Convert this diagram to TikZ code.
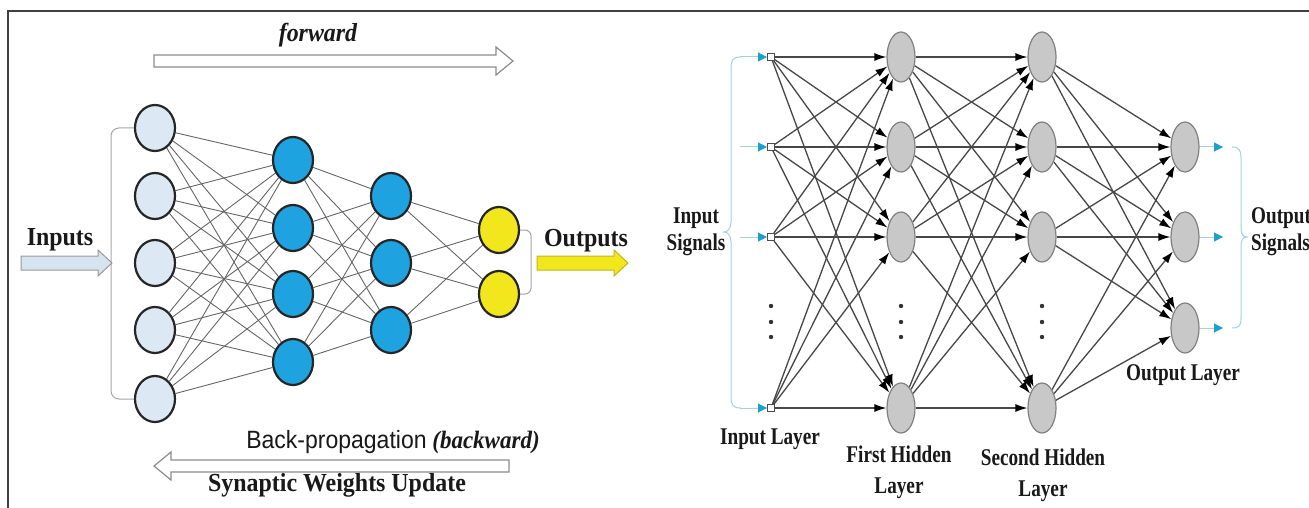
\documentclass[tikz,border=0pt]{standalone}
\usepackage{fontspec}
\setmainfont{Liberation Serif}
\newfontfamily\arialf{Liberation Sans}
\usetikzlibrary{arrows.meta,shapes.geometric}
\definecolor{inblue}{HTML}{DCE8F4}
\definecolor{hidblue}{HTML}{1EA2E0}
\definecolor{outyel}{HTML}{F2E61C}
\definecolor{cyanA}{HTML}{1BA0CF}
\definecolor{cyanL}{HTML}{9ED3E6}
\definecolor{nodegray}{HTML}{C8C8C8}
\definecolor{inarr}{HTML}{D6E4F0}
\newcommand\cnd[2][0.92]{\scalebox{#1}[1]{#2}}
\pgfdeclarelayer{bg}
\pgfsetlayers{bg,main}
\begin{document}
\begin{tikzpicture}[x=1pt,y=1pt,
 inc/.style={ellipse,draw=black!85,line width=2.2pt,fill=inblue,minimum width=40pt,minimum height=46pt,inner sep=0pt},
 hidc/.style={inc,fill=hidblue},
 outc/.style={inc,fill=outyel},
 ledge/.style={draw=black!60,line width=0.9pt},
 brk/.style={draw=black!35,line width=1pt,rounded corners=8pt},
 bigarr/.style={draw=black!45,line width=1.2pt,fill=white},
 sqn/.style={rectangle,draw=black!70,fill=white,line width=1pt,minimum size=7pt,inner sep=0pt},
 gel/.style={ellipse,draw=black!50,fill=nodegray,line width=1.2pt,minimum width=28pt,minimum height=50pt,inner sep=0pt},
 redge/.style={draw=black!72,line width=1.3pt,-{Latex[length=12pt,width=8pt,color=black]}},
 barrow/.style={draw=cyanL,line width=1pt,-{Triangle[length=9pt,width=9pt,color=cyanA,fill=cyanA]}},
 bracepath/.style={draw=cyanL,line width=1pt},
 lbl/.style={font=\fontsize{26}{28}\selectfont\bfseries,text=black!90,inner sep=0pt},
 rlbl/.style={font=\fontsize{24}{27}\selectfont\bfseries,text=black!90,inner sep=0pt,align=center},
]
\useasboundingbox (0,0) rectangle (1309,-508);
\begin{pgfonlayer}{bg}
\fill[white] (0,0) rectangle (1309,-508);
\end{pgfonlayer}
% frame
\draw[black!75,line width=2.5pt] (8,-508) -- (8,-11) -- (1309,-11);

% ---------- left network ----------
\foreach \y [count=\i] in {128,196,263,330,399} \node[inc] (a\i) at (155,-\y) {};
\foreach \y [count=\i] in {160,228,294,362} \node[hidc] (b\i) at (293,-\y) {};
\foreach \y [count=\i] in {196,263,330} \node[hidc] (c\i) at (391,-\y) {};
\foreach \y [count=\i] in {230,294} \node[outc] (d\i) at (499,-\y) {};
\begin{pgfonlayer}{bg}
\foreach \i in {1,...,5} \foreach \j in {1,...,4} \draw[ledge] (a\i) -- (b\j);
\foreach \i in {1,...,4} \foreach \j in {1,...,3} \draw[ledge] (b\i) -- (c\j);
\foreach \i in {1,...,3} \foreach \j in {1,2} \draw[ledge] (c\i) -- (d\j);
\end{pgfonlayer}
\draw[brk] (a1.west) -| (111,-263) |- (a5.west);
\draw[brk,rounded corners=6pt] (d1.east) -| (531,-262) |- (d2.east);

% big arrows
\draw[bigarr] (154,-55) -- (496,-55) -- (496,-47) -- (513,-61) -- (496,-75) -- (496,-67) -- (154,-67) -- cycle;
\draw[bigarr] (509,-460) -- (171,-460) -- (171,-452) -- (154,-466) -- (171,-480) -- (171,-472) -- (509,-472) -- cycle;
\draw[draw=black!40,fill=inarr,line width=1pt] (21,-256) -- (98,-256) -- (98,-250) -- (112,-263) -- (98,-276) -- (98,-270) -- (21,-270) -- cycle;
\draw[draw=outyel!80!black,fill=outyel,line width=1pt] (537,-256) -- (614,-256) -- (614,-250) -- (628,-263) -- (614,-276) -- (614,-270) -- (537,-270) -- cycle;

% left labels
\node[lbl] (tfw) at (318,-35) {\cnd{\itshape forward}};
\node[lbl] (tin) at (60,-240) {\cnd{Inputs}};
\node[lbl] (tout) at (586,-241) {\cnd{Outputs}};
\node[lbl,font=\fontsize{25}{27}\selectfont] (tbp) at (393,-442) {\cnd{{\arialf Back-propagation} \textbf{\itshape (backward)}}};
\node[lbl] (tsw) at (337,-485) {\cnd{Synaptic Weights Update}};

% ---------- right network ----------
\foreach \y [count=\i] in {57,147,237,408} {
  \node[sqn] (p\i) at (771,-\y) {};
  \node[gel] (q\i) at (901,-\y) {};
  \node[gel] (r\i) at (1042,-\y) {};
  \coordinate (pin\i) at (740,-\y);
}
\foreach \y [count=\i] in {147,237,328} {
  \node[gel] (s\i) at (1185,-\y) {};
  \coordinate (pout\i) at (1223,-\y);
}
\begin{pgfonlayer}{bg}
\foreach \i in {1,...,4} \foreach \j in {1,...,4} \draw[redge] (p\i) -- (q\j);
\foreach \i in {1,...,4} \foreach \j in {1,...,4} \draw[redge] (q\i) -- (r\j);
\foreach \i in {1,...,4} \foreach \j in {1,...,3} \draw[redge] (r\i) -- (s\j);
\end{pgfonlayer}
\foreach \i in {1,...,4} \draw[barrow] (pin\i) -- (p\i);
\foreach \i in {1,...,3} \draw[barrow] (s\i) -- (pout\i);

% dots
\foreach \x in {771,901,1042} \foreach \y in {306,322,337} \fill[black!80] (\x,-\y) circle (2.2pt);

% braces
\draw[bracepath] (741,-57) .. controls (733,-57) and (731,-60) .. (731,-68) -- (731,-222) .. controls (731,-228) and (728,-232) .. (724,-232) .. controls (728,-232) and (731,-236) .. (731,-242) -- (731,-397) .. controls (731,-405) and (733,-408) .. (741,-408);
\draw[bracepath] (1232,-147) .. controls (1239,-147) and (1241,-150) .. (1241,-158) -- (1241,-228) .. controls (1241,-234) and (1243,-237) .. (1247,-237) .. controls (1243,-237) and (1241,-240) .. (1241,-246) -- (1241,-318) .. controls (1241,-326) and (1239,-328) .. (1232,-328);

% right labels
\node[rlbl] (tis) at (696,-232) {\cnd[0.8]{Input}\\\cnd[0.8]{Signals}};
\node[rlbl,anchor=west,align=left] (tos) at (1251,-232) {\cnd[0.8]{Output}\\\cnd[0.8]{Signals}};
\node[rlbl] (til) at (770,-439) {\cnd[0.8]{Input Layer}};
\node[rlbl] (tfh) at (899,-472) {\cnd[0.8]{First Hidden}\\[4pt]\cnd[0.8]{Layer}};
\node[rlbl] (tsh) at (1043,-475) {\cnd[0.8]{Second Hidden}\\[4pt]\cnd[0.8]{Layer}};
\node[rlbl] (tol) at (1183,-375) {\cnd[0.8]{Output Layer}};
\end{tikzpicture}
\end{document}
